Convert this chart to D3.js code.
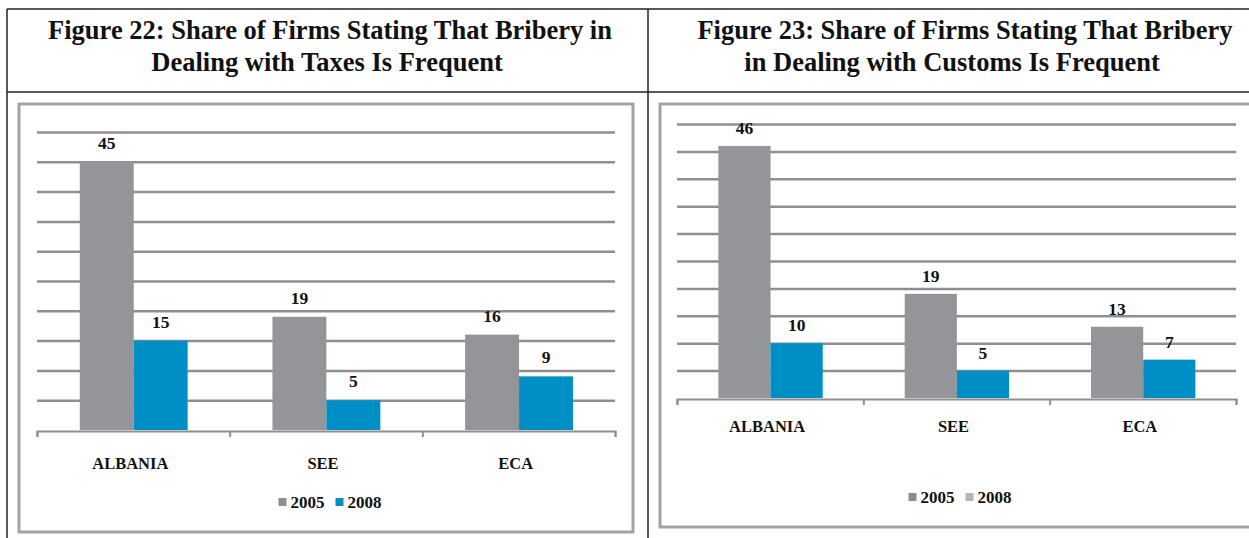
<!DOCTYPE html>
<html>
<head>
<meta charset="utf-8">
<script src="https://cdn.jsdelivr.net/npm/d3@7"></script>
<style>
  html, body { margin: 0; padding: 0; background: #fff; }
  svg { display: block; font-family: "Liberation Serif", "Times New Roman", serif; font-weight: bold; }
</style>
</head>
<body>
<svg id="page" width="1249" height="538"></svg>
<script>
// data
var categories = ["ALBANIA", "SEE", "ECA"],
    years = ["2005", "2008"],
    taxes2005 = [45, 19, 16],
    taxes2008 = [15, 5, 9],
    customs2005 = [46, 19, 13],
    customs2008 = [10, 5, 7],
    yMax = 50,
    gridStep = 5;

var barColors = ["#939598", "#008fc5"];

var svg = d3.select("#page");

// table borders round the two figures
var table = svg.append("g").attr("stroke", "#222").attr("stroke-width", 1.5);
table.append("line").attr("x1", 7).attr("x2", 1249).attr("y1", 9).attr("y2", 9);
table.append("line").attr("x1", 7).attr("x2", 1249).attr("y1", 92).attr("y2", 92);
table.append("line").attr("x1", 7).attr("x2", 7).attr("y1", 9).attr("y2", 538);
table.append("line").attr("x1", 648).attr("x2", 648).attr("y1", 9).attr("y2", 538);

var charts = [
  {
    title: ["Figure 22: Share of Firms Stating That Bribery in", "Dealing with Taxes Is Frequent"],
    titleX: [330, 327],
    series: [taxes2005, taxes2008],
    legendColors: ["#8c8d90", "#008fc5"],
    frame: {x: 19, y: 104, w: 614, h: 428},
    x0: 37, x1: 615, yTop: 132, yBase: 430,
    catY: 469, legendY: 508, legendX: 330, labelGap: 13
  },
  {
    title: ["Figure 23: Share of Firms Stating That Bribery", "in Dealing with Customs Is Frequent"],
    titleX: [965, 952],
    series: [customs2005, customs2008],
    legendColors: ["#8c8d90", "#b4b5b7"],
    frame: {x: 660, y: 104, w: 640, h: 423},
    x0: 677, x1: 1236, yTop: 124, yBase: 398,
    catY: 432, legendY: 503, legendX: 960, labelGap: 12
  }
];

charts.forEach(drawChart);

function drawChart(c) {

  var g = svg.append("g");

  g.selectAll("text.title")
    .data(c.title)
    .enter().append("text")
    .attr("class", "title")
    .attr("x", function(d, i){ return c.titleX[i]; })
    .attr("y", function(d, i){ return 39 + i * 32; })
    .attr("text-anchor", "middle")
    .style("font-size", "26.5px")
    .attr("fill", "#111")
    .text(function(d){ return d; });

  g.append("rect")
    .attr("x", c.frame.x)
    .attr("y", c.frame.y)
    .attr("width", c.frame.w)
    .attr("height", c.frame.h)
    .attr("fill", "none")
    .attr("stroke", "#a3a3a3")
    .attr("stroke-width", 3);

  var x = d3.scaleBand()
    .domain(categories)
    .range([c.x0, c.x1]);

  var xs = d3.scaleBand()
    .domain(years)
    .range([x.bandwidth() * 0.222, x.bandwidth() * 0.782]);

  var y = d3.scaleLinear()
    .domain([0, yMax])
    .range([c.yBase, c.yTop]);

  // gridlines
  var grid = g.append("g")
    .attr("transform", "translate(" + c.x0 + ",0)")
    .call(d3.axisLeft(y)
      .tickValues(d3.range(gridStep, yMax + 1, gridStep))
      .tickSize(-(c.x1 - c.x0))
      .tickFormat(""));
  grid.select(".domain").remove();
  grid.selectAll(".tick line")
    .attr("stroke", "#8f8f8f")
    .attr("stroke-width", 2.5);

  // category axis with ticks between groups
  var edges = d3.scaleLinear()
    .domain([0, categories.length])
    .range([c.x0, c.x1]);

  var axis = g.append("g")
    .attr("transform", "translate(0," + (c.yBase + 1) + ")")
    .call(d3.axisBottom(edges)
      .ticks(categories.length)
      .tickSize(6)
      .tickSizeOuter(6)
      .tickFormat(""));
  axis.select(".domain").attr("stroke", "#8f8f8f").attr("stroke-width", 2);
  axis.selectAll(".tick line").attr("stroke", "#8f8f8f").attr("stroke-width", 2);

  var rows = categories.map(function(cat, i){
    return years.map(function(yr, j){
      return {cat: cat, year: yr, value: c.series[j][i], color: barColors[j]};
    });
  });

  var groups = g.selectAll("g.cat")
    .data(rows)
    .enter().append("g")
    .attr("class", "cat")
    .attr("transform", function(d){ return "translate(" + x(d[0].cat) + ",0)"; });

  groups.selectAll("rect")
    .data(function(d){ return d; })
    .enter().append("rect")
    .attr("x", function(d){ return xs(d.year); })
    .attr("width", xs.bandwidth())
    .attr("y", function(d){ return y(d.value); })
    .attr("height", function(d){ return y(0) - y(d.value); })
    .attr("fill", function(d){ return d.color; });

  groups.selectAll("text")
    .data(function(d){ return d; })
    .enter().append("text")
    .attr("x", function(d){ return xs(d.year) + xs.bandwidth() / 2; })
    .attr("y", function(d){ return y(d.value) - c.labelGap; })
    .attr("text-anchor", "middle")
    .style("font-size", "17.5px")
    .attr("fill", "#111")
    .text(function(d){ return d.value; });

  g.selectAll("text.cat")
    .data(categories)
    .enter().append("text")
    .attr("class", "cat")
    .attr("x", function(d){ return x(d) + x.bandwidth() / 2 - 3; })
    .attr("y", c.catY)
    .attr("text-anchor", "middle")
    .style("font-size", "16.5px")
    .attr("fill", "#111")
    .text(function(d){ return d; });

  // legend
  var legend = g.append("g");
  var item = legend.selectAll("g")
    .data(years)
    .enter().append("g");
  item.append("rect")
    .attr("width", 8)
    .attr("height", 8)
    .attr("y", -10)
    .attr("fill", function(d, i){ return c.legendColors[i]; });
  item.append("text")
    .attr("x", 12)
    .style("font-size", "17px")
    .attr("fill", "#111")
    .text(function(d){ return d; });

  var offset = 0;
  item.each(function(){
    var w = 12 + this.querySelector("text").getComputedTextLength();
    d3.select(this).attr("transform", "translate(" + offset + ",0)");
    offset += w + 11;
  });
  offset -= 11;
  legend.attr("transform", "translate(" + (c.legendX - offset / 2) + "," + c.legendY + ")");
}
</script>
</body>
</html>
